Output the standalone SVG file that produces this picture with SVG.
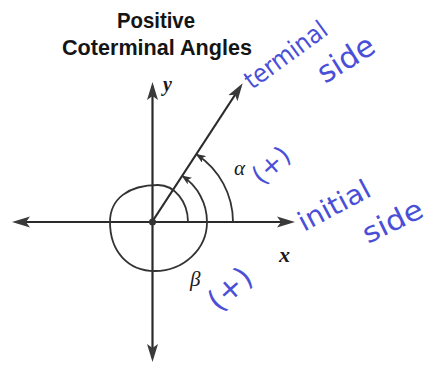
<svg xmlns="http://www.w3.org/2000/svg" width="441" height="370" viewBox="0 0 441 370">
<style>
.ax{stroke:#2b2b2b;stroke-width:2.2;fill:none}
.arc{stroke:#333;stroke-width:1.8;fill:none}
.title{font-family:"Liberation Sans",Arial,sans-serif;font-weight:bold;font-size:22px;fill:#151515;text-anchor:middle}
.hand{font-family:"DejaVu Sans","Liberation Sans",sans-serif;fill:#4a4fd8;font-weight:normal}
.lbl{font-family:"Liberation Serif","Times New Roman",serif;font-style:italic;fill:#1a1a1a}
</style>
<defs>
<marker id="big" viewBox="0 0 18 12" refX="14" refY="6" markerWidth="18" markerHeight="12" markerUnits="userSpaceOnUse" orient="auto-start-reverse">
<path d="M0,0.5 L18,6 L0,11.5 L4,6 Z" fill="#3a3a3a"/>
</marker>
<marker id="sm" viewBox="0 0 10 8" refX="9" refY="4" markerWidth="10" markerHeight="8" markerUnits="userSpaceOnUse" orient="auto">
<path d="M0,0 L10,4 L0,8 L2.5,4 Z" fill="#333"/>
</marker>
</defs>
<rect width="441" height="370" fill="#ffffff"/>
<g id="title">
<text class="title" x="156" y="28" textLength="78" lengthAdjust="spacingAndGlyphs">Positive</text>
<text class="title" x="157" y="55" textLength="190" lengthAdjust="spacingAndGlyphs">Coterminal Angles</text>
</g>
<g id="connectors">
<line class="ax" x1="16" y1="222" x2="291" y2="222" marker-start="url(#big)" marker-end="url(#big)"/>
<line class="ax" x1="152.5" y1="86" x2="152.5" y2="358" marker-start="url(#big)" marker-end="url(#big)"/>
<line class="ax" x1="152" y1="222" x2="240.5" y2="86.5" stroke-width="2.6" marker-end="url(#big)"/>
<path id="beta-arc" class="arc" d="M188,222 C188,201.6 174.5,185 158,185 C128.2,185 110,199 110,222 C110,251.4 128,271 155,271 C183.6,271 207,249 207,222 A55,55 0 0 0 182.4,176.1" marker-end="url(#sm)"/>
<path id="alpha-arc" class="arc" d="M233,222 A81,81 0 0 0 196.7,154.5" stroke="#444" marker-end="url(#sm)"/>
</g>
<g id="origin"><circle cx="152.5" cy="222" r="3.5" fill="#333"/></g>
<g id="axis-labels">
<text class="lbl" x="163" y="91" font-size="20" font-weight="bold">y</text>
<text class="lbl" x="279" y="262" font-size="22" font-weight="bold">x</text>
<text class="lbl" x="234" y="175" font-size="21">α</text>
<text class="lbl" x="190" y="286" font-size="21" fill="#555">β</text>
</g>
<g id="handwriting">
<text class="hand" font-size="25" transform="translate(252,90) rotate(-36)" textLength="96" lengthAdjust="spacingAndGlyphs">terminal</text>
<text class="hand" font-size="30" transform="translate(325,84) rotate(-32)" textLength="62" lengthAdjust="spacingAndGlyphs">side</text>
<text class="hand" font-size="27" transform="translate(304,232) rotate(-28)" textLength="78" lengthAdjust="spacingAndGlyphs">initial</text>
<text class="hand" font-size="28" transform="translate(368,244) rotate(-26)" textLength="64" lengthAdjust="spacingAndGlyphs">side</text>
<text class="hand" font-size="26" text-anchor="middle" transform="translate(271,165) rotate(-42)" y="9">(+)</text>
<text class="hand" font-size="30" text-anchor="middle" transform="translate(230,289) rotate(-42)" y="10">(+)</text>
</g>
</svg>
